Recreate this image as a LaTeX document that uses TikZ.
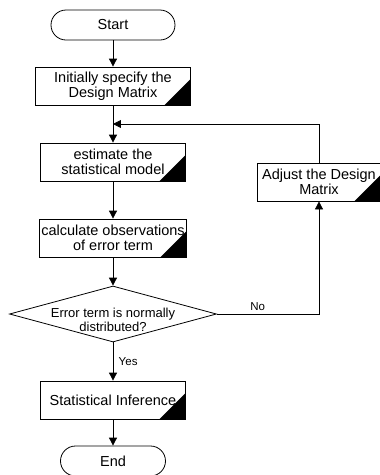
\documentclass[tikz,border=0pt]{standalone}
\usepackage{fontspec}
\setmainfont{Liberation Sans}
\usepackage{tikz}
\usetikzlibrary{shapes.geometric, arrows.meta}
\tikzstyle{startstop} = [rectangle, rounded corners=15pt, minimum width=124pt, minimum height=30pt, inner sep=0pt, text centered, draw=black, line width=0.8pt, font=\fontsize{14.5}{16}\selectfont]
\tikzstyle{process} = [rectangle, minimum width=145pt, minimum height=38pt, inner sep=0pt, align=center, draw=black, line width=0.8pt, font=\fontsize{14.5}{15.5}\selectfont, path picture={\fill (path picture bounding box.south east) -- ++(-26pt,0) -- ++(26pt,26pt) -- cycle;}]
\tikzstyle{decision} = [diamond, minimum width=207pt, minimum height=56pt, inner sep=0pt, draw=black, line width=0.8pt]
\tikzstyle{arrow} = [line width=0.8pt,->,>={Triangle[length=8pt,width=8pt]}]
\tikzstyle{answer} = [font=\fontsize{11.5}{13}\selectfont]

\begin{document}
\begin{tikzpicture}[node distance=76pt]
\useasboundingbox (-113pt,25pt) rectangle (267pt,-450pt);
\node (start) [startstop] {Start};
\node (spec) [process, below of=start, yshift=15pt, minimum width=155pt] {Initially specify the\\Design Matrix};
\node (est) [process, below of=spec] {estimate the\\statistical model};
\node (calc) [process, below of=est, minimum width=147pt] {calculate observations\\of error term};
\node (check) [decision, below of=calc, label={[font=\fontsize{13}{14}\selectfont, align=center, yshift=-6pt]center:Error term is normally\\distributed?}] {};
\node (infer) [process, below of=check, yshift=-10pt] {Statistical Inference};
\node (stop) [startstop, below of=infer, yshift=15pt, minimum width=105pt] {End};
\node (adjust) [process, right of=est, xshift=130pt, yshift=-20pt, minimum width=123pt] {Adjust the Design\\Matrix};

\path (spec) -- coordinate (join) (est);

\draw [arrow] (start) -- (spec);
\draw [arrow] (spec) -- (est);
\draw [arrow] (est) -- (calc);
\draw [arrow] (calc) -- (check);
\draw [arrow] (check) -- node[answer, anchor=west, xshift=2pt]{Yes} (infer);
\draw [arrow] (infer) -- (stop);
\draw [arrow] (check) -| node[answer, pos=0.2, anchor=south]{No} (adjust);
\draw [arrow] (adjust) |- (join);
\end{tikzpicture}
\end{document}
